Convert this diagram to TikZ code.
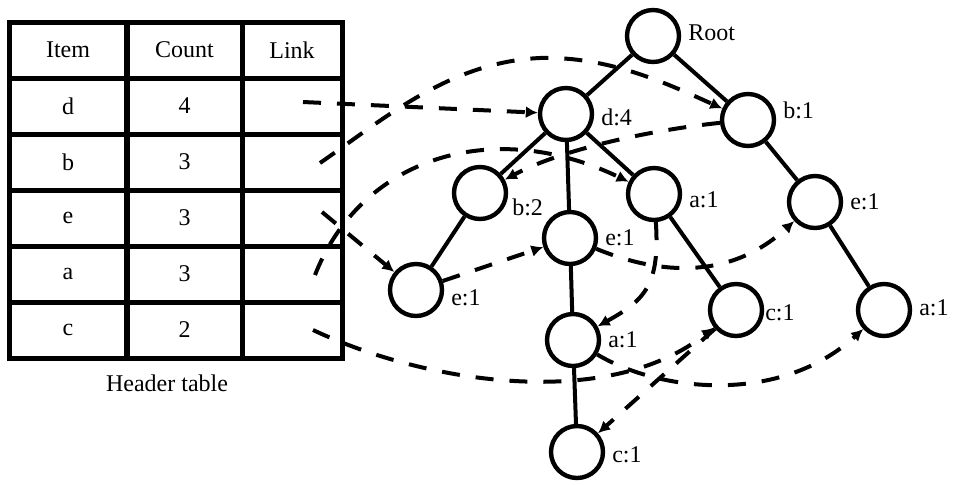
\documentclass[tikz,border=0pt]{standalone}
\usepackage{fontspec}
\setmainfont{Liberation Serif}
\usetikzlibrary{arrows.meta}

\tikzset{
  tnode/.style={circle,draw,line width=2.2pt,minimum size=26pt,inner sep=0pt,fill=white},
  tedge/.style={line width=2pt},
  nlink/.style={line width=2pt,dash pattern=on 9pt off 8pt,-{Latex[length=6pt,width=6pt]}},
  cell/.style={draw,line width=2.5pt,minimum height=28pt,inner sep=0pt,font=\fontsize{12}{14}\selectfont},
  lbl/.style={font=\fontsize{12}{14}\selectfont},
}

\begin{document}
\begin{tikzpicture}[x=0.5pt,y=-0.5pt]
\useasboundingbox (0,0) rectangle (953,484);

%header table
\foreach \itm/\cnt/\lnk/\row in {Item/Count/Link/0,d/4//1,b/3//2,e/3//3,a/3//4,c/2//5} {
  \node [cell,minimum width=58.5pt] (it-\row) at (68,{50+56*\row}) {\itm} ;
  \node [cell,minimum width=57.5pt] (ct-\row) at (184.5,{50+56*\row}) {\cnt} ;
  \node [cell,minimum width=50pt] (lk-\row) at (292,{50+56*\row}) {\lnk} ;
}
\node [lbl] (cap) at (167,383) {Header table} ;

\coordinate (sd) at (303,102) ;
\coordinate (sb) at (320,163) ;
\coordinate (se) at (322,212) ;
\coordinate (sa) at (315,275) ;
\coordinate (sc) at (313,330) ;

%tree
\node [tnode,label={[lbl,yshift=1.5pt]right:Root}] (root) at (653,36) {} ;
\node [tnode,label={[lbl,yshift=-1.5pt]right:{d:4}}] (d4) at (566,114) {} ;
\node [tnode,label={[lbl,yshift=5pt]right:{b:1}}] (b1) at (748,120) {} ;
\node [tnode,label={[lbl,yshift=-7pt,xshift=-1.5pt]right:{b:2}}] (b2) at (480,193) {} ;
\node [tnode,label={[lbl]right:{e:1}}] (eM) at (570,238) {} ;
\node [tnode,label={[lbl,yshift=-3pt]right:{a:1}}] (aD) at (654,194) {} ;
\node [tnode,label={[lbl,yshift=-4pt]right:{e:1}}] (eL) at (416,290) {} ;
\node [tnode,label={[lbl]right:{a:1}}] (aM) at (573,340) {} ;
\node [tnode,label={[lbl,yshift=-1.5pt]right:{c:1}}] (cB) at (577,452) {} ;
\node [tnode,label={[lbl,yshift=-1.5pt,xshift=-3pt]right:{c:1}}] (cR) at (736,310) {} ;
\node [tnode,label={[lbl]right:{e:1}}] (eR) at (815,202) {} ;
\node [tnode,label={[lbl,yshift=1pt]right:{a:1}}] (aR) at (884,310) {} ;

\draw [tedge] (root) -- (d4) ;
\draw [tedge] (root) -- (b1) ;
\draw [tedge] (d4) -- (b2) ;
\draw [tedge] (d4) -- (eM) ;
\draw [tedge] (d4) -- (aD) ;
\draw [tedge] (b2) -- (eL) ;
\draw [tedge] (eM) -- (aM) ;
\draw [tedge] (aM) -- (cB) ;
\draw [tedge] (aD) -- (cR) ;
\draw [tedge] (b1) -- (eR) ;
\draw [tedge] (eR) -- (aR) ;

%node links
\draw [nlink] (sd) -- (d4) ;
\draw [nlink] (sb) .. controls (385,118) and (450,62) .. (540,58) .. controls (610,56) and (670,85) .. (b1) ;
\draw [nlink] (b1) .. controls (650,130) and (560,150) .. (b2) ;
\draw [nlink] (se) -- (eL) ;
\draw [nlink] (eL) -- (eM) ;
\draw [nlink] (eM) .. controls (660,275) and (730,280) .. (eR) ;
\draw [nlink] (sa) .. controls (360,160) and (490,115) .. (aD) ;
\draw [nlink] (aD) .. controls (660,285) and (645,300) .. (aM) ;
\draw [nlink] (aM) .. controls (660,392) and (780,405) .. (aR) ;
\draw [nlink] (sc) .. controls (430,385) and (610,410) .. (cR) ;
\draw [nlink] (cR) -- (cB) ;

\end{tikzpicture}
\end{document}
